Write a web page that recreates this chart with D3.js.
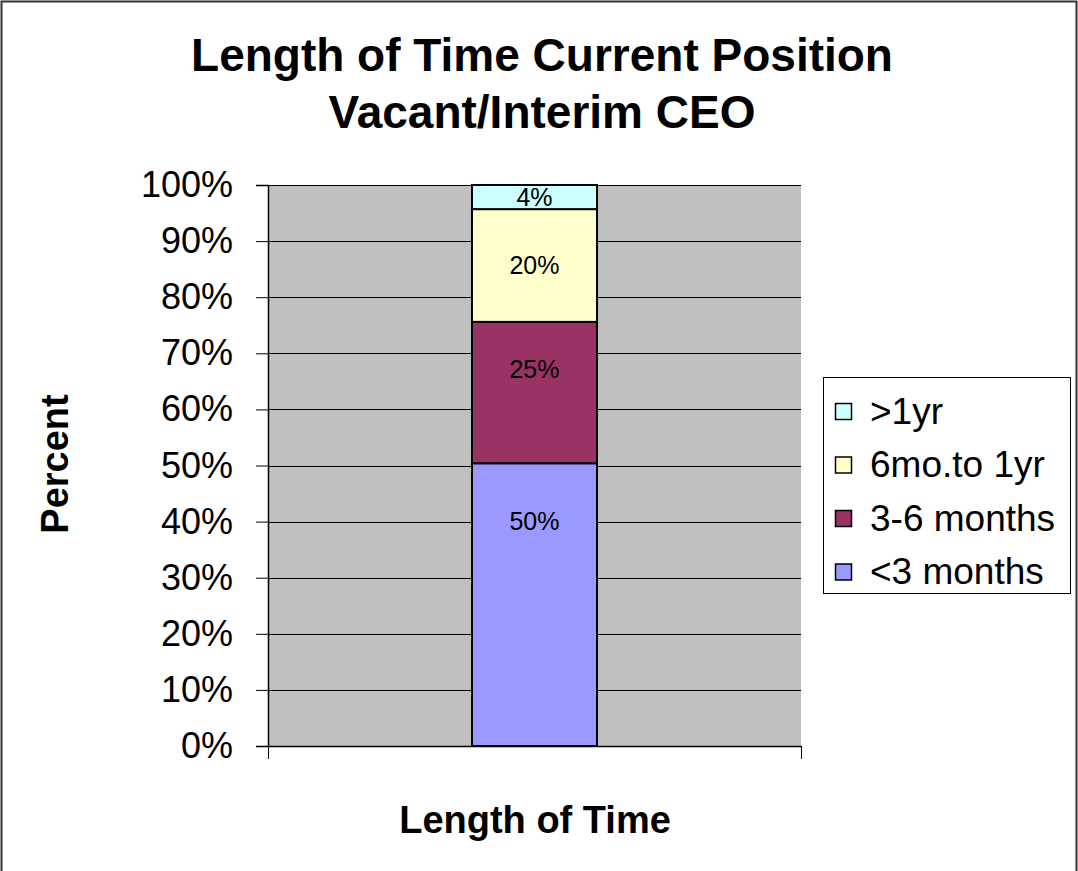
<!DOCTYPE html>
<html>
<head>
<meta charset="utf-8">
<script src="https://cdn.jsdelivr.net/npm/d3@7"></script>
<style>
  body { margin: 0; background: #fff; }
  text { font-family: "Liberation Sans", Arial, sans-serif; }
</style>
</head>
<body>
<svg id="chart"></svg>
<script>
// Data (share of the single stacked column)
const categories = ['Length of Time'];
const seriesNames = ['<3 months', '3-6 months', '6mo.to 1yr', '>1yr'];
const seriesValues = [0.504, 0.252, 0.201, 0.043];
const seriesLabels = ['50%', '25%', '20%', '4%'];
// where the data labels sit, in axis units (as in the original)
const labelAt = [0.40, 0.672, 0.857, 0.979];
const seriesColors = ['#9999FF', '#993366', '#FFFFCC', '#CCFFFF'];
const yTicks = [0, 0.1, 0.2, 0.3, 0.4, 0.5, 0.6, 0.7, 0.8, 0.9, 1.0];

const W = 1078, H = 871;
const plot = { left: 268, right: 801, top: 185, bottom: 746 };

const svg = d3.select('#chart')
    .attr('width', W)
    .attr('height', H);

// outer chart border (bottom edge falls off the picture)
svg.append('rect')
    .attr('x', 1.5).attr('y', 1.5)
    .attr('width', W - 3).attr('height', H + 20)
    .attr('fill', '#fff')
    .attr('stroke', '#333')
    .attr('stroke-width', 2);

// scales
const x = d3.scaleBand()
    .domain(categories)
    .range([plot.left, plot.right])
    .padding(0.62);

const y = d3.scaleLinear()
    .domain([0, 1])
    .range([plot.bottom, plot.top]);

// plot background
svg.append('rect')
    .attr('x', plot.left).attr('y', plot.top)
    .attr('width', plot.right - plot.left)
    .attr('height', plot.bottom - plot.top)
    .attr('fill', '#C0C0C0');

// gridlines
svg.append('g')
    .selectAll('line')
    .data(yTicks.filter(d => d > 0))
    .join('line')
    .attr('x1', plot.left).attr('x2', plot.right)
    .attr('y1', d => Math.round(y(d)) + 0.5)
    .attr('y2', d => Math.round(y(d)) + 0.5)
    .attr('stroke', '#000')
    .attr('stroke-width', 1);

// stacked column
const row = { cat: categories[0] };
seriesNames.forEach((s, i) => row[s] = seriesValues[i]);
const stacked = d3.stack().keys(seriesNames)([row]);

const seg = svg.append('g')
    .selectAll('g')
    .data(stacked)
    .join('g');

seg.append('rect')
    .attr('x', d => x(d[0].data.cat))
    .attr('width', x.bandwidth())
    .attr('y', d => y(d[0][1]))
    .attr('height', d => y(d[0][0]) - y(d[0][1]))
    .attr('fill', (d, i) => seriesColors[i])
    .attr('stroke', '#000')
    .attr('stroke-width', 2);

seg.append('text')
    .attr('x', d => x(d[0].data.cat) + x.bandwidth() / 2)
    .attr('y', (d, i) => y(labelAt[i]))
    .attr('dy', '0.35em')
    .attr('text-anchor', 'middle')
    .style('font-size', '25px')
    .attr('fill', '#000')
    .text((d, i) => seriesLabels[i]);

// y axis
const yAxis = svg.append('g')
    .attr('transform', `translate(${plot.left},0)`)
    .call(d3.axisLeft(y)
        .tickValues(yTicks)
        .tickFormat(d3.format('.0%'))
        .tickSize(12)
        .tickPadding(23));
yAxis.select('.domain').attr('stroke', '#000').attr('stroke-width', 1.5);
yAxis.selectAll('.tick line').attr('stroke', '#000');
yAxis.selectAll('.tick text')
    .style('font-size', '36px')
    .style('font-family', '"Liberation Sans", Arial, sans-serif')
    .attr('fill', '#000');

// x axis
const xAxis = svg.append('g')
    .attr('transform', `translate(0,${plot.bottom})`)
    .call(d3.axisBottom(d3.scaleLinear().domain([0, 1]).range([plot.left, plot.right]))
        .tickValues([0, 1])
        .tickFormat('')
        .tickSize(13)
        .tickSizeOuter(0));
xAxis.select('.domain').attr('stroke', '#000').attr('stroke-width', 1.5);
xAxis.selectAll('.tick line').attr('stroke', '#000');

// titles
const title = svg.append('text')
    .attr('text-anchor', 'middle')
    .style('font-size', '46px')
    .style('font-weight', 'bold');
title.append('tspan').attr('x', 542).attr('y', 71).text('Length of Time Current Position');
title.append('tspan').attr('x', 542).attr('y', 128).text('Vacant/Interim CEO');

svg.append('text')
    .attr('x', 535).attr('y', 833)
    .attr('text-anchor', 'middle')
    .style('font-size', '38px')
    .style('font-weight', 'bold')
    .text('Length of Time');

svg.append('text')
    .attr('transform', 'translate(68,464) rotate(-90)')
    .attr('text-anchor', 'middle')
    .style('font-size', '38px')
    .style('font-weight', 'bold')
    .text('Percent');

// legend (top entry is the top of the stack)
const legend = svg.append('g');
legend.append('rect')
    .attr('x', 823.5).attr('y', 377.5)
    .attr('width', 247).attr('height', 216)
    .attr('fill', '#fff')
    .attr('stroke', '#000')
    .attr('stroke-width', 1);

const legendOrder = seriesNames.map((s, i) => i).reverse();
const item = legend.selectAll('g.item')
    .data(legendOrder)
    .join('g')
    .attr('class', 'item')
    .attr('transform', (d, k) => `translate(835,${411 + k * 53.5})`);

item.append('rect')
    .attr('x', 0.5).attr('y', -7.5)
    .attr('width', 16).attr('height', 16)
    .attr('fill', d => seriesColors[d])
    .attr('stroke', '#000')
    .attr('stroke-width', 1.5);

item.append('text')
    .attr('x', 35).attr('y', 0)
    .attr('dy', '0.35em')
    .style('font-size', '37px')
    .text(d => seriesNames[d]);
</script>
</body>
</html>
